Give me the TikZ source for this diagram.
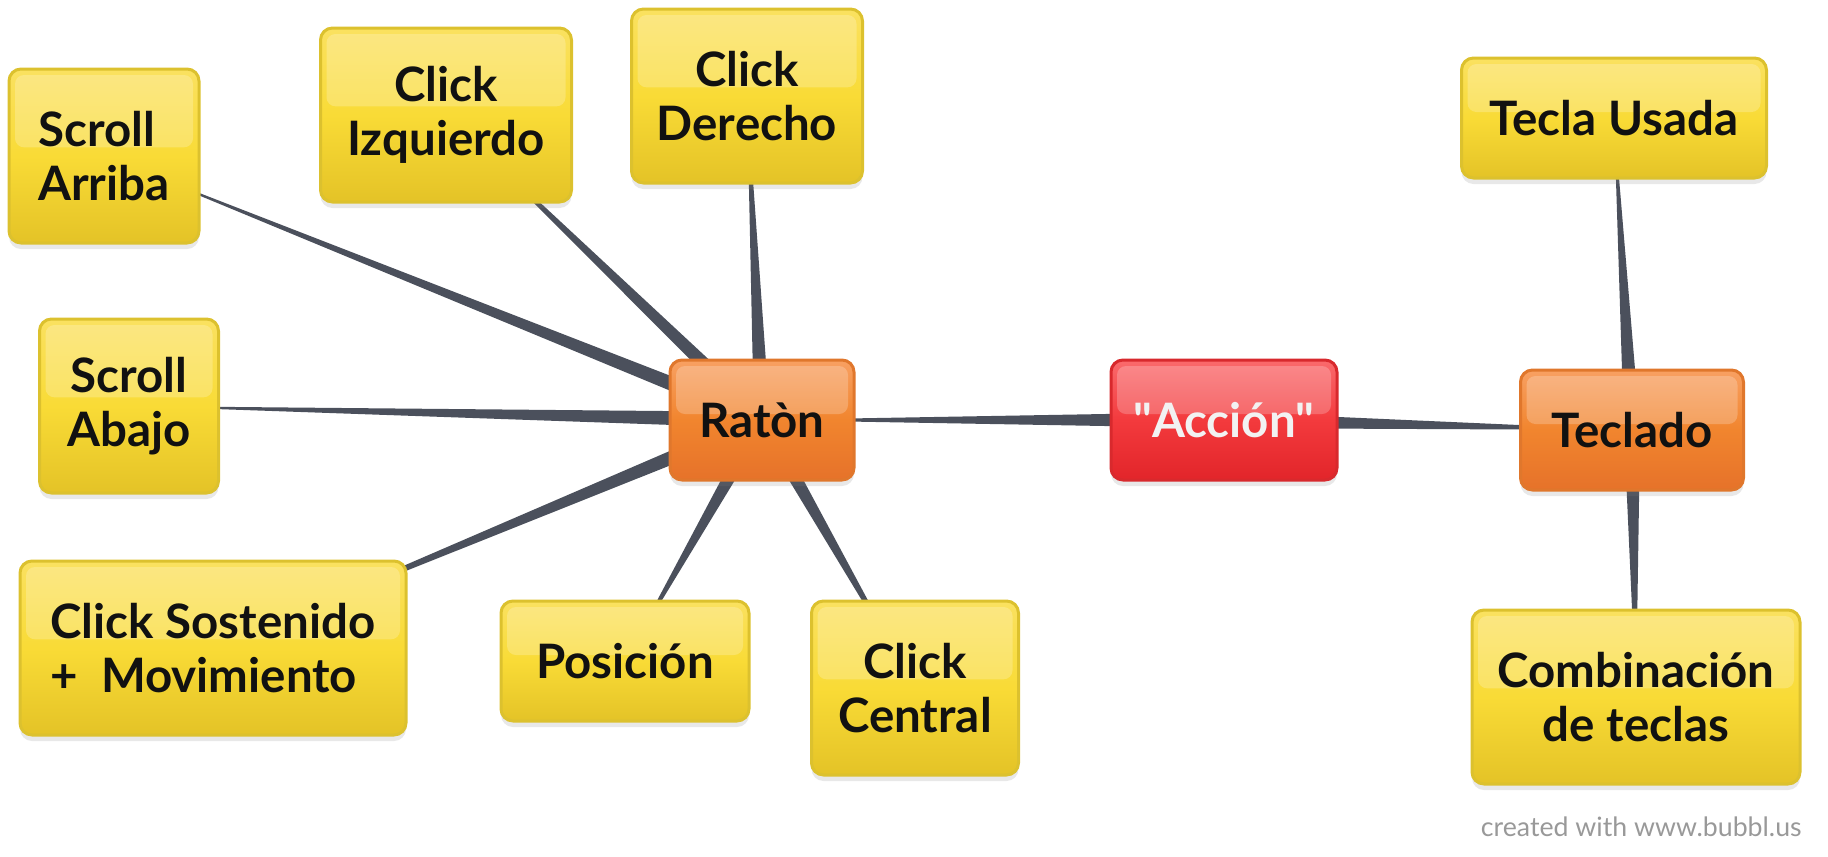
\documentclass[tikz,border=0pt]{standalone}
\usepackage{fontspec}
\setmainfont{Lato}
\usetikzlibrary{calc,shadows}

\pgfdeclarelayer{background}
\pgfsetlayers{background,main}

\definecolor{spokegray}{HTML}{4B505C}
\definecolor{ytop}{HTML}{FAE160}
\definecolor{ymid}{HTML}{F9DB36}
\definecolor{ybot}{HTML}{E4C327}
\definecolor{yline}{HTML}{DCC12E}
\definecolor{otop}{HTML}{F8A062}
\definecolor{omid}{HTML}{F1852E}
\definecolor{obot}{HTML}{E6722A}
\definecolor{oline}{HTML}{E0772C}
\definecolor{rtop}{HTML}{FA6A6C}
\definecolor{rmid}{HTML}{F33A3D}
\definecolor{rbot}{HTML}{E2252A}
\definecolor{rline}{HTML}{D8292D}
\definecolor{inktext}{HTML}{111111}
\definecolor{credgray}{HTML}{999999}

% tapered link, thick at the first node
\newcommand\spoke[2]{\fill[spokegray] ($(#1.center)!2.3pt!90:(#2.center)$) -- (#2.center) -- ($(#1.center)!2.3pt!-90:(#2.center)$) -- cycle;}

\tikzset{
  bubble/.style={rectangle, rounded corners=1.2mm, line width=0.3mm, inner sep=0pt,
    font=\fontsize{13.5}{15.5}\selectfont\bfseries, text=inktext, align=center,
    drop shadow={opacity=0.18, shadow xshift=0pt, shadow yshift=-0.6mm},
    path picture={\fill[white, opacity=0.22, rounded corners=0.9mm]
      ($(path picture bounding box.north west)+(0.6mm,-0.6mm)$) rectangle
      ($(path picture bounding box.north east)!0.45!(path picture bounding box.south east)+(-0.6mm,0)$);}},
  leaf/.style={bubble, draw=yline, top color=ytop, bottom color=ybot, middle color=ymid},
  hub/.style={bubble, draw=oline, top color=otop, bottom color=obot, middle color=omid},
  root/.style={bubble, draw=rline, top color=rtop, bottom color=rbot, middle color=rmid, text=white!95!black},
  credit/.style={anchor=base east, text=credgray, font=\fontsize{7.6}{9}\selectfont}
}

\begin{document}
\begin{tikzpicture}[x=0.1mm, y=-0.1mm]
  \useasboundingbox (0,0) rectangle (1828,856);

  \node[root, minimum width=22.6mm, minimum height=12mm] (accion) at (1224,420) {\textquotedbl Acción\textquotedbl};
  \node[hub, minimum width=18.4mm, minimum height=12mm] (raton) at (762,420) {Ratòn};
  \node[hub, minimum width=22.3mm, minimum height=12mm] (teclado) at (1632,430) {Teclado};

  \node[leaf, minimum width=19mm, minimum height=17.4mm, align=left] (arriba) at (104,156) {Scroll\\Arriba};
  \node[leaf, minimum width=25.1mm, minimum height=17.4mm] (izquierdo) at (446,115) {Click\\Izquierdo};
  \node[leaf, minimum width=23.1mm, minimum height=17.4mm] (derecho) at (747,96) {Click\\Derecho};
  \node[leaf, minimum width=17.9mm, minimum height=17.4mm] (abajo) at (129,406) {Scroll\\Abajo};
  \node[leaf, minimum width=38.6mm, minimum height=17.4mm, align=left] (sostenido) at (213,648) {Click Sostenido\\+\ \ Movimiento};
  \node[leaf, minimum width=24.8mm, minimum height=12mm] (posicion) at (625,661) {Posición};
  \node[leaf, minimum width=20.7mm, minimum height=17.4mm] (central) at (915,688) {Click\\Central};

  \node[leaf, minimum width=30.5mm, minimum height=12mm] (usada) at (1614,118) {Tecla Usada};
  \node[leaf, minimum width=32.8mm, minimum height=17.4mm] (combinacion) at (1636,697) {Combinación\\de teclas};

  \begin{pgfonlayer}{background}
    \spoke{accion}{raton}
    \spoke{accion}{teclado}
    \spoke{raton}{arriba}
    \spoke{raton}{izquierdo}
    \spoke{raton}{derecho}
    \spoke{raton}{abajo}
    \spoke{raton}{sostenido}
    \spoke{raton}{posicion}
    \spoke{raton}{central}
    \spoke{teclado}{usada}
    \spoke{teclado}{combinacion}
  \end{pgfonlayer}

  \node[credit] (made) at (1814,836) {created with www.bubbl.us};
\end{tikzpicture}
\end{document}
